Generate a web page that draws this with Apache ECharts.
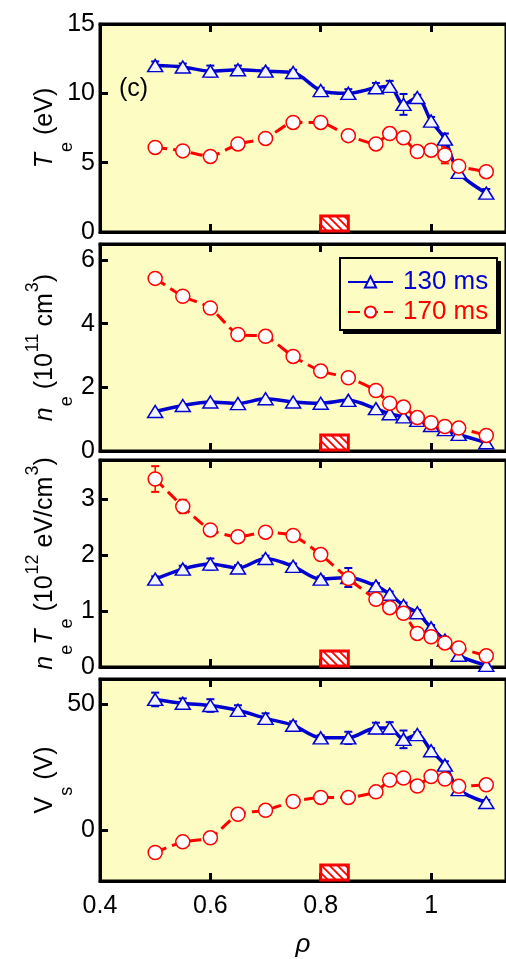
<!DOCTYPE html>
<html><head><meta charset="utf-8">
<script src="https://cdn.jsdelivr.net/npm/echarts@6/dist/echarts.min.js"></script>
<style>html,body{margin:0;padding:0;background:#fff}#c{width:506px;height:959px}</style>
</head><body><div id="c"></div>
<script>
// ---- data ----
const rho = [0.5, 0.55, 0.6, 0.65, 0.7, 0.75, 0.8, 0.85, 0.9, 0.925, 0.95, 0.975, 1.0, 1.025, 1.05, 1.1];
const te130 = [12.0, 11.9, 11.6, 11.7, 11.6, 11.5, 10.2, 10.0, 10.4, 10.5, 9.2, 9.7, 8.0, 6.7, 4.3, 2.8];
const te130Err = [0.3, 0.25, 0.4, 0.3, 0.2, 0.2, 0.2, 0.3, 0.35, 0.4, 0.75, 0.2, 0.3, 0.4, 0.2, 0.3];
const te170 = [6.1, 5.85, 5.45, 6.35, 6.75, 7.9, 7.9, 6.95, 6.35, 7.1, 6.8, 5.8, 5.9, 5.55, 4.75, 4.35];
const te170Err = [0, 0, 0, 0, 0, 0, 0, 0, 0, 0, 0, 0, 0, 0.6, 0, 0];
const ne130 = [1.24, 1.43, 1.54, 1.49, 1.64, 1.54, 1.5, 1.59, 1.33, 1.17, 1.07, 0.96, 0.8, 0.67, 0.52, 0.26];
const ne170 = [5.42, 4.86, 4.49, 3.66, 3.6, 2.97, 2.51, 2.3, 1.9, 1.5, 1.38, 1.05, 0.89, 0.77, 0.72, 0.49];
const p130 = [1.57, 1.75, 1.84, 1.77, 1.94, 1.8, 1.57, 1.6, 1.45, 1.3, 1.1, 0.97, 0.7, 0.48, 0.21, 0.03];
const p130Err = [0.05, 0.06, 0.1, 0.05, 0.05, 0.05, 0.05, 0.17, 0.05, 0.05, 0.05, 0.05, 0.05, 0.06, 0.05, 0.03];
const p170 = [3.36, 2.87, 2.45, 2.33, 2.41, 2.35, 2.01, 1.58, 1.21, 1.06, 0.96, 0.6, 0.54, 0.43, 0.34, 0.2];
const p170Err = [0.23, 0.12, 0, 0, 0, 0, 0, 0, 0, 0, 0, 0, 0, 0, 0, 0];
const vs130 = [51.9, 50.4, 49.5, 47.6, 44.4, 41.7, 36.7, 36.7, 40.6, 40.6, 36.1, 38.0, 31.6, 25.9, 16.2, 11.1];
const vs130Err = [2.7, 1.9, 2.5, 2.0, 2.0, 1.5, 1.0, 2.4, 2.1, 2.3, 3.5, 1.0, 1.0, 1.5, 1.0, 1.0];
const vs170 = [-8.7, -4.5, -2.9, 6.4, 8.0, 11.5, 13.1, 13.1, 15.3, 20.0, 20.8, 17.6, 21.4, 20.4, 17.5, 18.1];
const xTicks = [0.4, 0.6, 0.8, 1];
const yTicks = [[0, 5, 10, 15], [0, 2, 4, 6], [0, 1, 2, 3], [0, 50]];
const yRange = [[0, 15], [0, 6.5], [0, 3.7], [-20, 60]];
const limiterRange = [0.8, 0.85];
const seriesNames = ['130 ms', '170 ms'];

// ---- style ----
const FONT = 'Arial, "Liberation Sans", sans-serif';
const BLUE = '#0000D0', RED = '#FF0000', BG = '#FDFDC3';
const xMax = 0.4 + 412 / 560;

const pc = document.createElement('canvas'); pc.width = 8; pc.height = 8;
const g = pc.getContext('2d');
g.fillStyle = '#fff'; g.fillRect(0, 0, 8, 8);
g.strokeStyle = RED; g.lineWidth = 1.8;
g.beginPath(); g.moveTo(-1, -1); g.lineTo(9, 9); g.moveTo(-5, 3); g.lineTo(5, 13); g.moveTo(3, -5); g.lineTo(13, 5); g.stroke();
const hatch = { image: pc, repeat: 'repeat' };

const grids = [
  { left: 100, top: 24, width: 412, height: 208 },
  { left: 100, top: 244, width: 412, height: 207 },
  { left: 100, top: 460, width: 412, height: 207 },
  { left: 100, top: 679, width: 412, height: 209 }
].map(gr => Object.assign(gr, { show: true, backgroundColor: BG, borderColor: '#000', borderWidth: 3 }));

const axisLine = { show: true, onZero: false, lineStyle: { color: '#000', width: 3 } };
const xAxes = [];
for (let i = 0; i < 4; i++) {
  xAxes.push({
    type: 'value', gridIndex: i, min: 0.4, max: xMax, position: 'bottom',
    axisLine, splitLine: { show: false },
    axisTick: { inside: true, length: 8, lineStyle: { color: '#000', width: 3 }, customValues: xTicks },
    axisLabel: { show: i === 3, customValues: xTicks, fontSize: 25, color: '#000', fontFamily: FONT, margin: 13 },
    name: i === 3 ? 'ρ' : '', nameLocation: 'middle', nameGap: 51, nameMoveOverlap: false,
    nameTextStyle: { fontSize: 26, fontStyle: 'italic', fontFamily: FONT, color: '#000' }
  });
}
for (let i = 0; i < 4; i++) {
  xAxes.push({
    type: 'value', gridIndex: i, min: 0.4, max: xMax, position: 'top',
    axisLine, splitLine: { show: false },
    axisTick: { inside: true, length: 8, lineStyle: { color: '#000', width: 3 }, customValues: xTicks },
    axisLabel: { show: false }
  });
}

const rich = {
  i: { fontSize: 25, fontStyle: 'italic', fontFamily: FONT, color: '#000', lineHeight: 30, padding: [10, 0, 0, 0], verticalAlign: 'top' },
  n: { fontSize: 25, fontFamily: FONT, color: '#000', lineHeight: 30, padding: [10, 0, 0, 0], verticalAlign: 'top' },
  s: { fontSize: 18, fontFamily: FONT, color: '#000', lineHeight: 18, padding: [35, 0, 0, 1], verticalAlign: 'top' },
  p: { fontSize: 18, fontFamily: FONT, color: '#000', lineHeight: 18, padding: [1, 0, 0, 1], verticalAlign: 'top' }
};
const yNames = [
  '{i|T}{s|e}{n| (eV)}',
  '{i|n}{s|e}{n| (10}{p|11}{n| cm}{p|3}{n|)}',
  '{i|n}{s|e}{i|T}{s|e}{n| (10}{p|12}{n| eV/cm}{p|3}{n|)}',
  '{n|V}{s|s}{n| (V)}'
];
const nameGaps = [47, 47, 47, 47];
const yLabelSize = [25, 25, 25, 25];
const yAxes = yRange.map((r, i) => ({
  type: 'value', gridIndex: i, min: r[0], max: r[1],
  axisLine, splitLine: { show: false },
  axisTick: { inside: true, length: 8, lineStyle: { color: '#000', width: 3 }, customValues: yTicks[i] },
  axisLabel: { customValues: yTicks[i], fontSize: yLabelSize[i], color: '#000', fontFamily: FONT, margin: 5 },
  name: yNames[i], nameLocation: 'middle', nameGap: nameGaps[i], nameMoveOverlap: false,
  nameTextStyle: { rich }
}));

function errRender(color) {
  return function (params, api) {
    const x = api.value(0), y = api.value(1), e = api.value(2);
    if (!e) return null;
    const t = api.coord([x, y + e]), b = api.coord([x, y - e]);
    const w = 4;
    return { type: 'group', children: [
      { type: 'line', shape: { x1: t[0], y1: t[1], x2: b[0], y2: b[1] }, style: { stroke: color, lineWidth: 1.5 } },
      { type: 'line', shape: { x1: t[0] - w, y1: t[1], x2: t[0] + w, y2: t[1] }, style: { stroke: color, lineWidth: 2 } },
      { type: 'line', shape: { x1: b[0] - w, y1: b[1], x2: b[0] + w, y2: b[1] }, style: { stroke: color, lineWidth: 2 } }
    ] };
  };
}
function hatchRender(params, api) {
  const cs = params.coordSys;
  const a = api.coord([api.value(0), 0]), b = api.coord([api.value(1), 0]);
  const bottom = cs.y + cs.height;
  return { type: 'rect', shape: { x: a[0], y: bottom - 16, width: b[0] - a[0], height: 15 },
    style: { fill: hatch, stroke: RED, lineWidth: 3 } };
}

const panels = [
  { a: te130, b: te170, ea: te130Err, eb: te170Err },
  { a: ne130, b: ne170, ea: null, eb: null },
  { a: p130, b: p170, ea: p130Err, eb: p170Err },
  { a: vs130, b: vs170, ea: vs130Err, eb: null }
];
const series = [];
panels.forEach((p, i) => {
  series.push({ type: 'custom', xAxisIndex: i, yAxisIndex: i, data: [limiterRange], renderItem: hatchRender,
    encode: { x: [0, 1] }, clip: false, silent: true, z: 1 });
  if (p.ea) series.push({ type: 'custom', xAxisIndex: i, yAxisIndex: i, renderItem: errRender(BLUE),
    data: rho.map((x, k) => [x, p.a[k], p.ea[k]]), encode: { x: 0, y: 1 }, z: 2, silent: true });
  if (p.eb) series.push({ type: 'custom', xAxisIndex: i, yAxisIndex: i, renderItem: errRender(RED),
    data: rho.map((x, k) => [x, p.b[k], p.eb[k]]), encode: { x: 0, y: 1 }, z: 2, silent: true });
  series.push({
    name: seriesNames[0], type: 'line', xAxisIndex: i, yAxisIndex: i, z: 3,
    data: rho.map((x, k) => [x, p.a[k]]), smooth: 0.3,
    symbol: 'triangle', symbolSize: [15, 12], showAllSymbol: true,
    lineStyle: { color: BLUE, width: 3.5 },
    itemStyle: { color: '#F2F4FF', borderColor: BLUE, borderWidth: 1.5 }
  });
  series.push({
    name: seriesNames[1], type: 'line', xAxisIndex: i, yAxisIndex: i, z: 4,
    data: rho.map((x, k) => [x, p.b[k]]), smooth: 0.2,
    symbol: 'circle', symbolSize: 14, showAllSymbol: true,
    lineStyle: { color: RED, width: 3, type: [12, 6] },
    itemStyle: { color: '#fff', borderColor: RED, borderWidth: 1.5 }
  });
});

const chart = echarts.init(document.getElementById('c'), null, { renderer: 'canvas' });
chart.setOption({
  animation: false,
  backgroundColor: '#fff',
  grid: grids,
  xAxis: xAxes,
  yAxis: yAxes,
  legend: {
    orient: 'vertical', left: 347, top: 269, z: 10,
    data: [
      { name: seriesNames[0], textStyle: { color: BLUE } },
      { name: seriesNames[1], textStyle: { color: RED } }
    ],
    itemWidth: 45, itemHeight: 14, itemGap: 4, padding: 0,
    textStyle: { fontSize: 26, fontFamily: FONT, lineHeight: 26, padding: [0, 0, 0, 5] }
  },
  graphic: [
    { type: 'text', left: 119, top: 77, style: { text: '(c)', fontSize: 25, fontFamily: FONT, fill: '#000' } },
    { type: 'rect', z: 8, shape: { x: 343, y: 261, width: 158, height: 73 }, style: { fill: '#000' } },
    { type: 'rect', z: 9, shape: { x: 340, y: 258, width: 157, height: 72 }, style: { fill: BG, stroke: '#000', lineWidth: 2 } }
  ],
  series
});
</script>
</body></html>
